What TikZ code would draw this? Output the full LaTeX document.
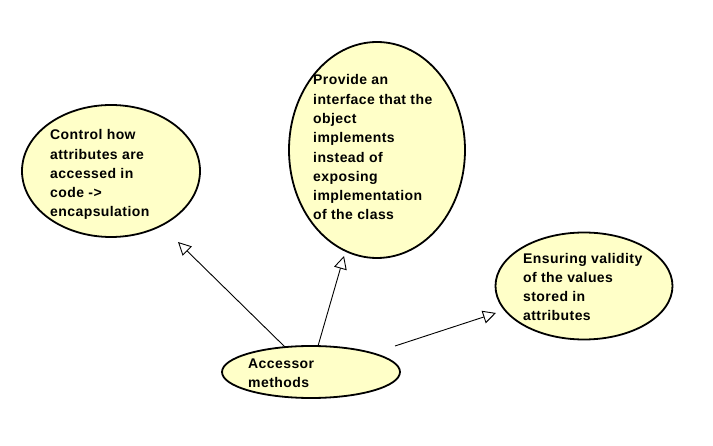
\documentclass[tikz,border=0pt]{standalone}
\usepackage{fontspec}
\setmainfont{Liberation Sans}[LetterSpace=3]
\usetikzlibrary{shapes.geometric,arrows.meta}
\definecolor{ellfill}{HTML}{FFFFC8}
\tikzset{
  bubble/.style={draw=black, line width=1.8pt, fill=ellfill, ellipse, inner sep=0pt},
  txt/.style={anchor=base west, inner sep=0pt, align=left, font=\bfseries\fontsize{14}{19.3}\selectfont},
  gen/.style={line width=0.9pt, -{Triangle[open, length=13pt, width=13pt, fill=white]}}
}
\begin{document}
\begin{tikzpicture}[x=1pt, y=-1pt]
\useasboundingbox (0,0) rectangle (713,446);
\node[bubble, minimum width=178pt, minimum height=132pt] (ctrl) at (111,171) {};
\node[bubble, minimum width=176pt, minimum height=216pt] (prov) at (377,150) {};
\node[bubble, minimum width=177pt, minimum height=107pt] (ens) at (584,286) {};
\node[bubble, minimum width=178pt, minimum height=52pt] (acc) at (311,372) {};
\node[txt] (tctrl) at (50,217) {Control how\\attributes are\\accessed in\\code ->\\encapsulation};
\node[txt] (tprov) at (313,220) {Provide an\\interface that the\\object\\implements\\instead of\\exposing\\implementation\\of the class};
\node[txt] (tens) at (523,321) {Ensuring validity\\of the values\\stored in\\attributes};
\node[txt] (tacc) at (248,388) {Accessor\\methods};
\coordinate (a1s) at (285,347);
\coordinate (a1e) at (178,242);
\coordinate (a2s) at (318,346);
\coordinate (a2e) at (344,256);
\coordinate (a3s) at (395,346);
\coordinate (a3e) at (496,313);
\draw[gen] (a1s) -- (a1e);
\draw[gen] (a2s) -- (a2e);
\draw[gen] (a3s) -- (a3e);
\end{tikzpicture}
\end{document}
